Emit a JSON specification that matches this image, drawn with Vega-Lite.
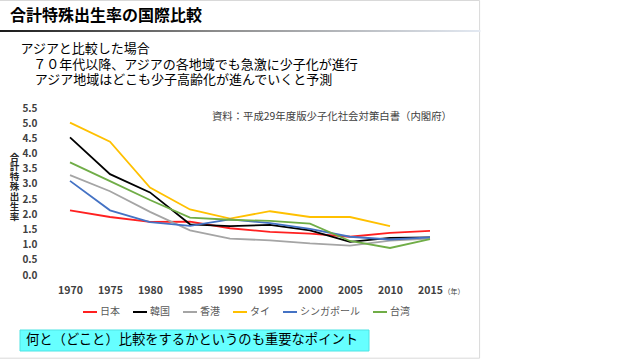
{
  "$schema": "https://vega.github.io/schema/vega-lite/v6.json",
  "width": 400,
  "height": 167,
  "autosize": {"type": "none"},
  "padding": {"left": 50, "top": 108, "right": 190, "bottom": 86},
  "background": "white",
  "config": {
    "font": "Noto Sans CJK JP",
    "view": {"stroke": null}
  },
  "resolve": {"axis": {"x": "independent", "y": "independent"}},
  "layer": [
    {
      "data": {"values": [{}]},
      "mark": {"type": "rect", "fill": null, "stroke": "#D9D9D9", "strokeWidth": 1},
      "encoding": {
        "x": {"datum": 1961.1, "type": "quantitative", "axis": null},
        "x2": {"datum": 2021.2},
        "y": {"datum": 9.04, "type": "quantitative", "axis": null},
        "y2": {"datum": -2.74}
      }
    },
    {
      "data": {
        "values": [
          {"year": 1970, "country": "日本", "rate": 2.13},
          {"year": 1975, "country": "日本", "rate": 1.91},
          {"year": 1980, "country": "日本", "rate": 1.75},
          {"year": 1985, "country": "日本", "rate": 1.76},
          {"year": 1990, "country": "日本", "rate": 1.54},
          {"year": 1995, "country": "日本", "rate": 1.42},
          {"year": 2000, "country": "日本", "rate": 1.36},
          {"year": 2005, "country": "日本", "rate": 1.26},
          {"year": 2010, "country": "日本", "rate": 1.39},
          {"year": 2015, "country": "日本", "rate": 1.45},
          {"year": 1970, "country": "韓国", "rate": 4.53},
          {"year": 1975, "country": "韓国", "rate": 3.32},
          {"year": 1980, "country": "韓国", "rate": 2.72},
          {"year": 1985, "country": "韓国", "rate": 1.67},
          {"year": 1990, "country": "韓国", "rate": 1.61},
          {"year": 1995, "country": "韓国", "rate": 1.65},
          {"year": 2000, "country": "韓国", "rate": 1.47},
          {"year": 2005, "country": "韓国", "rate": 1.09},
          {"year": 2010, "country": "韓国", "rate": 1.22},
          {"year": 2015, "country": "韓国", "rate": 1.24},
          {"year": 1970, "country": "香港", "rate": 3.29},
          {"year": 1975, "country": "香港", "rate": 2.76},
          {"year": 1980, "country": "香港", "rate": 2.08},
          {"year": 1985, "country": "香港", "rate": 1.47},
          {"year": 1990, "country": "香港", "rate": 1.2},
          {"year": 1995, "country": "香港", "rate": 1.14},
          {"year": 2000, "country": "香港", "rate": 1.04},
          {"year": 2005, "country": "香港", "rate": 0.97},
          {"year": 2010, "country": "香港", "rate": 1.13},
          {"year": 2015, "country": "香港", "rate": 1.2},
          {"year": 1970, "country": "タイ", "rate": 5.02},
          {"year": 1975, "country": "タイ", "rate": 4.39},
          {"year": 1980, "country": "タイ", "rate": 2.88},
          {"year": 1985, "country": "タイ", "rate": 2.16},
          {"year": 1990, "country": "タイ", "rate": 1.86},
          {"year": 1995, "country": "タイ", "rate": 2.1},
          {"year": 2000, "country": "タイ", "rate": 1.91},
          {"year": 2005, "country": "タイ", "rate": 1.91},
          {"year": 2010, "country": "タイ", "rate": 1.61},
          {"year": 1970, "country": "シンガポール", "rate": 3.1},
          {"year": 1975, "country": "シンガポール", "rate": 2.13},
          {"year": 1980, "country": "シンガポール", "rate": 1.74},
          {"year": 1985, "country": "シンガポール", "rate": 1.62},
          {"year": 1990, "country": "シンガポール", "rate": 1.83},
          {"year": 1995, "country": "シンガポール", "rate": 1.71},
          {"year": 2000, "country": "シンガポール", "rate": 1.52},
          {"year": 2005, "country": "シンガポール", "rate": 1.26},
          {"year": 2010, "country": "シンガポール", "rate": 1.17},
          {"year": 2015, "country": "シンガポール", "rate": 1.24},
          {"year": 1970, "country": "台湾", "rate": 3.71},
          {"year": 1975, "country": "台湾", "rate": 3.09},
          {"year": 1980, "country": "台湾", "rate": 2.47},
          {"year": 1985, "country": "台湾", "rate": 1.89},
          {"year": 1990, "country": "台湾", "rate": 1.82},
          {"year": 1995, "country": "台湾", "rate": 1.78},
          {"year": 2000, "country": "台湾", "rate": 1.69},
          {"year": 2005, "country": "台湾", "rate": 1.12},
          {"year": 2010, "country": "台湾", "rate": 0.89},
          {"year": 2015, "country": "台湾", "rate": 1.18}
        ]
      },
      "mark": {"type": "line", "strokeWidth": 1.8},
      "encoding": {
        "x": {
          "field": "year", "type": "quantitative",
          "scale": {"domain": [1967.5, 2017.5], "nice": false, "zero": false},
          "axis": {
            "values": [1970, 1975, 1980, 1985, 1990, 1995, 2000, 2005, 2010, 2015],
            "format": "d", "grid": false, "domain": false, "ticks": false,
            "labelPadding": 10, "labelFontSize": 10.5, "labelFontWeight": "bold",
            "labelColor": "#404040", "labelFont": "Noto Sans CJK JP",
            "title": "（年）", "titleFontSize": 7, "titleFontWeight": "normal",
            "titleColor": "#404040", "titleX": 393, "titleY": 16.5,
            "titleAlign": "left", "titleBaseline": "middle", "titleAnchor": null
          }
        },
        "y": {
          "field": "rate", "type": "quantitative",
          "scale": {"domain": [0, 5.5], "nice": false},
          "axis": {
            "values": [0, 0.5, 1, 1.5, 2, 2.5, 3, 3.5, 4, 4.5, 5, 5.5],
            "format": ".1f", "domain": false, "ticks": false,
            "gridColor": "#D9D9D9", "gridWidth": 1, "labelOverlap": false,
            "labelPadding": 13, "labelFontSize": 10, "labelFontWeight": "bold",
            "labelColor": "#404040", "labelFont": "Noto Sans CJK JP",
            "title": ["合", "計", "特", "殊", "出", "生", "率"],
            "titleAngle": 0, "titleFontSize": 9.5, "titleFontWeight": "bold",
            "titleColor": "#262626", "titleLineHeight": 9.9,
            "titleX": -36, "titleY": 49, "titleAlign": "center", "titleBaseline": "middle"
          }
        },
        "color": {
          "field": "country", "type": "nominal",
          "scale": {
            "domain": ["日本", "韓国", "香港", "タイ", "シンガポール", "台湾"],
            "range": ["#FF2020", "#000000", "#A5A5A5", "#FFC000", "#4472C4", "#70AD47"]
          },
          "legend": {
            "orient": "none", "legendX": 32, "legendY": 196,
            "direction": "horizontal", "title": null,
            "symbolType": "stroke", "symbolStrokeWidth": 2, "symbolSize": 196,
            "labelFontSize": 10, "labelColor": "#595959", "labelOffset": 2,
            "columnPadding": 9, "padding": 0, "labelFont": "Noto Sans CJK JP"
          }
        }
      }
    },
    {
      "data": {"values": [{}]},
      "mark": {"type": "text", "align": "left", "baseline": "middle", "fontSize": 16, "fontWeight": "bold", "color": "#000000", "font": "Noto Sans CJK JP"},
      "encoding": {
        "x": {"datum": 1962.5, "type": "quantitative", "axis": null},
        "y": {"datum": 8.53, "type": "quantitative", "axis": null},
        "text": {"value": "合計特殊出生率の国際比較"}
      }
    },
    {
      "data": {"values": [{}]},
      "mark": {
        "type": "rect",
        "fill": {
          "gradient": "linear", "x1": 0, "x2": 1, "y1": 0, "y2": 0,
          "stops": [
            {"offset": 0, "color": "#1a1a1a"},
            {"offset": 0.45, "color": "#8c8c8c"},
            {"offset": 1, "color": "#e3e9f2"}
          ]
        }
      },
      "encoding": {
        "x": {"datum": 1961.25, "type": "quantitative", "axis": null},
        "x2": {"datum": 2021.3},
        "y": {"datum": 8.069, "type": "quantitative", "axis": null},
        "y2": {"datum": 8.003}
      }
    },
    {
      "data": {"values": [{}]},
      "mark": {"type": "text", "align": "left", "baseline": "middle", "fontSize": 13, "color": "#000000", "font": "Noto Sans CJK JP"},
      "encoding": {
        "x": {"datum": 1963.81, "type": "quantitative", "axis": null},
        "y": {"datum": 7.433, "type": "quantitative", "axis": null},
        "text": {"value": "アジアと比較した場合"}
      }
    },
    {
      "data": {"values": [{}]},
      "mark": {"type": "text", "align": "left", "baseline": "middle", "fontSize": 13, "color": "#000000", "font": "Noto Sans CJK JP"},
      "encoding": {
        "x": {"datum": 1965.4, "type": "quantitative", "axis": null},
        "y": {"datum": 6.916, "type": "quantitative", "axis": null},
        "text": {"value": "７０年代以降、アジアの各地域でも急激に少子化が進行"}
      }
    },
    {
      "data": {"values": [{}]},
      "mark": {"type": "text", "align": "left", "baseline": "middle", "fontSize": 13, "color": "#000000", "font": "Noto Sans CJK JP"},
      "encoding": {
        "x": {"datum": 1965.6, "type": "quantitative", "axis": null},
        "y": {"datum": 6.422, "type": "quantitative", "axis": null},
        "text": {"value": "アジア地域はどこも少子高齢化が進んでいくと予測"}
      }
    },
    {
      "data": {"values": [{}]},
      "mark": {"type": "text", "align": "right", "baseline": "middle", "fontSize": 10.4, "color": "#404040", "font": "Noto Sans CJK JP"},
      "encoding": {
        "x": {"datum": 2017.75, "type": "quantitative", "axis": null},
        "y": {"datum": 5.213, "type": "quantitative", "axis": null},
        "text": {"value": "資料：平成29年度版少子化社会対策白書（内閣府）"}
      }
    },
    {
      "data": {"values": [{}]},
      "mark": {"type": "rect", "fill": "#66FFFF", "stroke": "#4FE3E3", "strokeWidth": 1},
      "encoding": {
        "x": {"datum": 1963.75, "type": "quantitative", "axis": null},
        "x2": {"datum": 2007.375},
        "y": {"datum": -1.811, "type": "quantitative", "axis": null},
        "y2": {"datum": -2.503}
      }
    },
    {
      "data": {"values": [{}]},
      "mark": {"type": "text", "align": "left", "baseline": "middle", "fontSize": 13.3, "color": "#000000", "font": "Noto Sans CJK JP"},
      "encoding": {
        "x": {"datum": 1964.5, "type": "quantitative", "axis": null},
        "y": {"datum": -2.157, "type": "quantitative", "axis": null},
        "text": {"value": "何と（どこと）比較をするかというのも重要なポイント"}
      }
    }
  ]
}
